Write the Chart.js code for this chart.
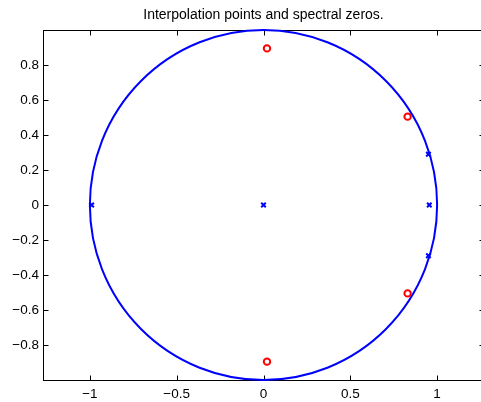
<!DOCTYPE html>
<html><head><meta charset="utf-8">
<script src="https://cdn.jsdelivr.net/npm/chart.js@4"></script>
<style>html,body{margin:0;padding:0;background:#fff;overflow:hidden;width:481px;height:402px}canvas{display:block}</style>
</head><body>
<canvas id="c" width="490" height="402" style="width:490px;height:402px"></canvas>
<script>
const titleText = 'Interpolation points and spectral zeros.';
const xTicks = [-1, -0.5, 0, 0.5, 1];
const yTicks = [-0.8, -0.6, -0.4, -0.2, 0, 0.2, 0.4, 0.6, 0.8];
const interpX = [-0.99, 0, 0.95, 0.955, 0.95];
const interpY = [0, 0, 0.29, 0, -0.29];
const zerosX = [0.02, 0.83, 0.83, 0.02];
const zerosY = [0.895, 0.505, -0.505, -0.895];
const circleCenter = [0, 0];
const circleRadius = 1;
const xRange = [-1.27, 1.27];
const yRange = [-1, 1];

const FONT = '"Liberation Sans", Arial, Helvetica, sans-serif';
const fmt = v => (v < 0 ? '\u2212' : '') + String(Math.abs(v));

const frame = {
  id: 'frame',
  beforeDatasetsDraw(chart) {
    const {ctx, chartArea: a, scales: {x, y}} = chart;
    ctx.save();
    ctx.strokeStyle = '#000';
    ctx.lineWidth = 1;
    const L = Math.round(a.left) + 0.5, R = Math.round(a.right) + 0.5;
    const T = Math.round(a.top) + 0.5, B = Math.round(a.bottom) + 0.5;
    ctx.strokeRect(L, T, R - L, B - T);
    const tl = 5;
    ctx.beginPath();
    xTicks.forEach(v => {
      const px = Math.round(x.getPixelForValue(v)) + 0.5;
      ctx.moveTo(px, B); ctx.lineTo(px, B - tl);
      ctx.moveTo(px, T); ctx.lineTo(px, T + tl);
    });
    yTicks.forEach(v => {
      const py = Math.round(y.getPixelForValue(v)) + 0.5;
      ctx.moveTo(L, py); ctx.lineTo(L + tl, py);
      ctx.moveTo(R, py); ctx.lineTo(R - tl, py);
    });
    ctx.stroke();

    const cx = x.getPixelForValue(circleCenter[0]);
    const cy = y.getPixelForValue(circleCenter[1]);
    const rx = Math.abs(x.getPixelForValue(circleCenter[0] + circleRadius) - cx);
    const ry = Math.abs(y.getPixelForValue(circleCenter[1] + circleRadius) - cy);
    ctx.strokeStyle = '#0000ff';
    ctx.lineWidth = 2;
    ctx.beginPath();
    ctx.ellipse(cx, cy, rx, ry, 0, 0, Math.PI * 2);
    ctx.stroke();

    ctx.fillStyle = '#000';
    ctx.font = '14px ' + FONT;
    ctx.textAlign = 'center';
    ctx.textBaseline = 'middle';
    ctx.fillText(titleText, (a.left + a.right) / 2, 15);
    ctx.restore();
  }
};

new Chart(document.getElementById('c'), {
  type: 'scatter',
  data: {
    datasets: [
      {
        label: 'Interpolation points',
        data: interpX.map((v, i) => ({x: v, y: interpY[i]})),
        pointStyle: 'crossRot',
        pointRadius: 3.2,
        pointBorderWidth: 2,
        borderColor: '#0000ff',
        backgroundColor: '#0000ff',
        showLine: false
      },
      {
        label: 'Spectral zeros',
        data: zerosX.map((v, i) => ({x: v, y: zerosY[i]})),
        pointStyle: 'circle',
        pointRadius: 3.2,
        pointBorderWidth: 2,
        borderColor: '#ff0000',
        backgroundColor: 'rgba(255,255,255,0)',
        showLine: false
      }
    ]
  },
  options: {
    responsive: false,
    animation: false,
    devicePixelRatio: 1,
    layout: {padding: {top: 30, left: 0, right: 5, bottom: 0}},
    plugins: {legend: {display: false}, tooltip: {enabled: false}, title: {display: false}},
    scales: {
      x: {
        type: 'linear', min: xRange[0], max: xRange[1],
        afterBuildTicks: s => { s.ticks = xTicks.map(v => ({value: v})); },
        afterFit: s => { s.height = 22; },
        grid: {display: false, drawTicks: false},
        border: {display: false},
        ticks: {callback: v => fmt(v), color: '#000', font: {family: FONT, size: 13.5}, padding: 6, maxRotation: 0, autoSkip: false}
      },
      y: {
        type: 'linear', min: yRange[0], max: yRange[1],
        afterBuildTicks: s => { s.ticks = yTicks.map(v => ({value: v})); },
        afterFit: s => { s.width = 43; },
        grid: {display: false, drawTicks: false},
        border: {display: false},
        ticks: {callback: v => fmt(v), color: '#000', font: {family: FONT, size: 13.5}, padding: 4, autoSkip: false}
      }
    }
  },
  plugins: [frame]
});
</script>
</body></html>
